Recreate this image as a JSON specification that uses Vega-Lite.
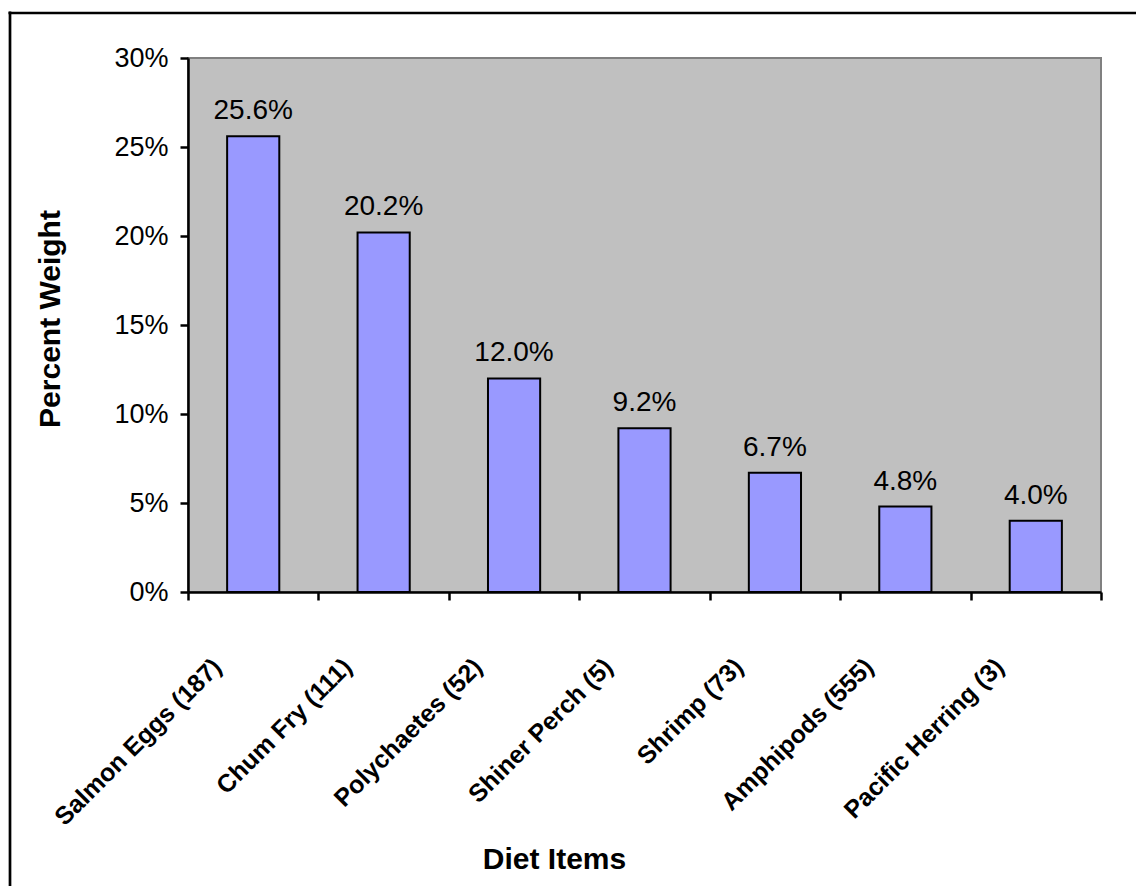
{
  "$schema": "https://vega.github.io/schema/vega-lite/v6.json",
  "width": 913,
  "height": 534,
  "autosize": {"type": "none"},
  "padding": {"left": 188, "top": 58, "right": 35, "bottom": 294},
  "background": "white",
  "config": {
    "font": "Liberation Sans",
    "view": {"fill": "#C0C0C0", "stroke": "#808080", "strokeWidth": 2}
  },
  "layer": [
    {
      "data": {
        "values": [
          {"item": "Salmon Eggs (187)", "pct": 0.256},
          {"item": "Chum Fry (111)", "pct": 0.202},
          {"item": "Polychaetes (52)", "pct": 0.12},
          {"item": "Shiner Perch (5)", "pct": 0.092},
          {"item": "Shrimp (73)", "pct": 0.067},
          {"item": "Amphipods (555)", "pct": 0.048},
          {"item": "Pacific Herring (3)", "pct": 0.04}
        ]
      },
      "encoding": {
        "x": {
          "field": "item",
          "type": "nominal",
          "sort": null,
          "scale": {"paddingInner": 0, "paddingOuter": 0},
          "axis": {
            "title": "Diet Items",
            "titleFont": "Liberation Sans",
            "titleFontSize": 30,
            "titleFontWeight": "bold",
            "titleColor": "black",
            "titleX": 366,
            "titleY": 276,
            "titleBaseline": "alphabetic",
            "titleAlign": "center",
            "labelAngle": -45,
            "labelAlign": "right",
            "labelBaseline": "top",
            "labelFont": "Liberation Sans",
            "labelFontSize": 25,
            "labelFontWeight": "bold",
            "labelColor": "black",
            "labelPadding": 54,
            "labelOffset": -45,
            "labelLimit": 0,
            "labelOverlap": false,
            "tickBand": "extent",
            "tickSize": 8,
            "tickWidth": 2.5,
            "tickColor": "black",
            "domainColor": "black",
            "domainWidth": 2.5,
            "grid": false,
            "zindex": 1
          }
        },
        "y": {
          "field": "pct",
          "type": "quantitative",
          "scale": {"domain": [0, 0.3]},
          "axis": {
            "title": "Percent Weight",
            "titleFont": "Liberation Sans",
            "titleFontSize": 30,
            "titleFontWeight": "bold",
            "titleColor": "black",
            "titleAngle": -90,
            "titleX": -129,
            "titleY": 260.5,
            "titleBaseline": "alphabetic",
            "titleAlign": "center",
            "values": [0, 0.05, 0.1, 0.15, 0.2, 0.25, 0.3],
            "format": ".0%",
            "labelFont": "Liberation Sans",
            "labelFontSize": 27,
            "labelColor": "black",
            "labelPadding": 12,
            "tickSize": 8,
            "tickWidth": 2.5,
            "tickColor": "black",
            "domainColor": "black",
            "domainWidth": 2.5,
            "grid": false,
            "zindex": 1
          }
        }
      },
      "layer": [
        {
          "mark": {
            "type": "bar",
            "color": "#9999FF",
            "stroke": "black",
            "strokeWidth": 2,
            "width": {"band": 0.4}
          }
        },
        {
          "mark": {
            "type": "text",
            "fontSize": 28,
            "font": "Liberation Sans",
            "color": "black",
            "align": "center",
            "baseline": "alphabetic",
            "dy": -17
          },
          "encoding": {
            "text": {"field": "pct", "type": "quantitative", "format": ".1%"}
          }
        }
      ]
    },
    {
      "data": {"values": [{"fx": 0, "fy": 0}]},
      "mark": {"type": "point", "opacity": 0},
      "encoding": {
        "x": {
          "field": "fx",
          "type": "quantitative",
          "scale": {"domain": [0, 1], "range": [-180, 1000]},
          "axis": {
            "orient": "top",
            "offset": 45.5,
            "title": null,
            "labels": false,
            "ticks": false,
            "grid": false,
            "domainColor": "black",
            "domainWidth": 2.7
          }
        },
        "y": {
          "field": "fy",
          "type": "quantitative",
          "scale": {"domain": [0, 1], "range": [900, -47]},
          "axis": {
            "orient": "left",
            "offset": 178.5,
            "title": null,
            "labels": false,
            "ticks": false,
            "grid": false,
            "domainColor": "black",
            "domainWidth": 2.7
          }
        }
      }
    }
  ],
  "resolve": {
    "scale": {"x": "independent", "y": "independent"},
    "axis": {"x": "independent", "y": "independent"}
  }
}
